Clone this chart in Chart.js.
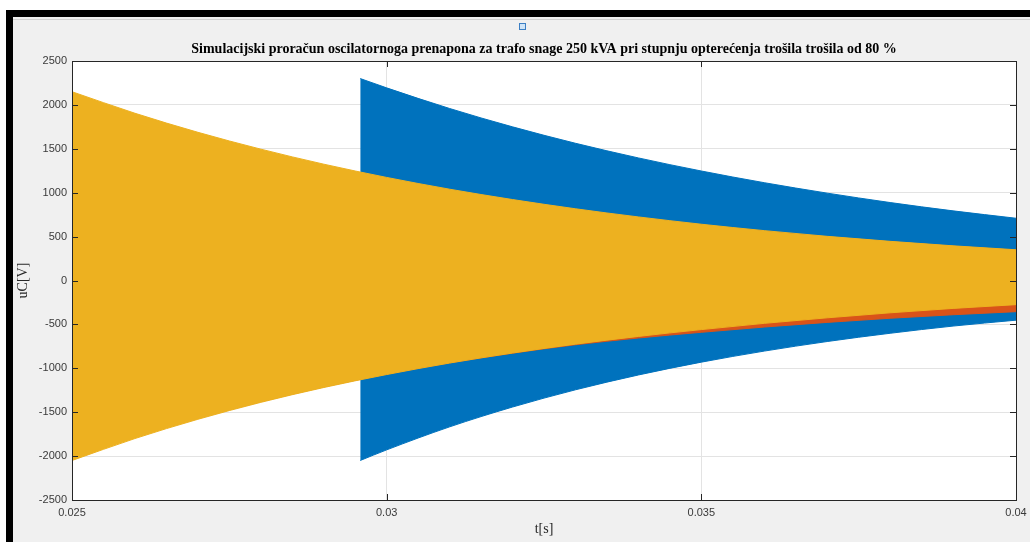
<!DOCTYPE html>
<html>
<head>
<meta charset="utf-8">
<script src="https://cdn.jsdelivr.net/npm/chart.js@4.4.1/dist/chart.umd.min.js"></script>
<style>
  html, body { margin: 0; padding: 0; }
  body { width: 1030px; height: 542px; background: #f0f0f0; position: relative; overflow: hidden; }
  #topWhite { position: absolute; left: 0; top: 0; width: 1030px; height: 10px; background: #fff; }
  #leftWhite { position: absolute; left: 0; top: 0; width: 6px; height: 542px; background: #fff; }
  #topBar { position: absolute; left: 6px; top: 10px; width: 1024px; height: 7px; background: #000; }
  #leftBar { position: absolute; left: 6px; top: 10px; width: 7px; height: 532px; background: #000; }
  #topLine { position: absolute; left: 13px; top: 19px; width: 1017px; height: 1px; background: #d2d2d2; }
  #icon { position: absolute; left: 519px; top: 23px; width: 5px; height: 5px; border: 1px solid #3c7fc4; background: #cfe4f7; }
  #wrap { position: absolute; left: 0; top: 0; width: 1030px; height: 542px; }
</style>
</head>
<body>
<div id="topWhite"></div>
<div id="leftWhite"></div>
<div id="topBar"></div>
<div id="leftBar"></div>
<div id="topLine"></div>
<div id="icon"></div>
<div id="wrap"><canvas id="uChart" width="1030" height="542"></canvas></div>
<script>
// tick labels
const xTicks = [0.025, 0.03, 0.035, 0.04];
const yTicks = [-2500, -2000, -1500, -1000, -500, 0, 500, 1000, 1500, 2000, 2500];

// envelope of the yellow signal
const tYellow = [0.025, 0.026, 0.027, 0.028, 0.029, 0.030, 0.031, 0.032, 0.033, 0.034, 0.035, 0.036, 0.037, 0.038, 0.039, 0.040];
const yellowUpper = [2150, 1905, 1688, 1496, 1325, 1174, 1040, 922, 817, 724, 641, 568, 503, 446, 395, 350];
const yellowLower = [-2050, -1800, -1581, -1388, -1219, -1071, -940, -826, -725, -637, -559, -488, -425, -368, -318, -275];

// red signal, mostly hidden behind yellow
const tRed = [0.025, 0.026, 0.027, 0.028, 0.029, 0.030, 0.031, 0.032, 0.033, 0.034, 0.035, 0.036, 0.037, 0.038, 0.039, 0.040];
const redUpper = [2130, 1885, 1670, 1480, 1310, 1160, 1028, 910, 806, 714, 632, 560, 496, 440, 390, 345];
const redLower = [-2030, -1785, -1570, -1380, -1212, -1066, -938, -828, -732, -655, -590, -530, -477, -430, -390, -355];

// blue signal, starts at the switching moment
const tBlue = [0.02958, 0.030, 0.031, 0.032, 0.033, 0.034, 0.035, 0.036, 0.037, 0.038, 0.039, 0.040];
const blueUpper = [2300, 2194, 1959, 1750, 1563, 1396, 1247, 1114, 995, 888, 793, 709];
const blueLower = [-2050, -1929, -1667, -1441, -1245, -1076, -930, -804, -695, -601, -519, -452];

const toPoints = (t, v) => t.map((x, i) => ({ x: x, y: v[i] }));

const band = (pts, color, fill) => ({
  data: pts,
  borderColor: color,
  backgroundColor: color,
  borderWidth: 1,
  pointRadius: 0,
  cubicInterpolationMode: 'monotone',
  fill: fill
});

const tickFont = { family: '"Liberation Sans", Arial, sans-serif', size: 11 };
const serif = '"Liberation Serif", "Times New Roman", serif';

// white axes background
const axesBg = {
  id: 'axesBg',
  beforeDraw(chart) {
    const a = chart.chartArea, c = chart.ctx;
    c.save();
    c.fillStyle = '#fff';
    c.fillRect(a.left, a.top, a.right - a.left, a.bottom - a.top);
    c.restore();
  }
};

// matlab style box with inner tick marks
const axesBox = {
  id: 'axesBox',
  afterDraw(chart) {
    const a = chart.chartArea, c = chart.ctx;
    const xs = chart.scales.x, ys = chart.scales.y;
    c.save();
    c.strokeStyle = '#262626';
    c.lineWidth = 1;
    c.beginPath();
    xTicks.forEach(v => {
      const px = Math.round(xs.getPixelForValue(v)) + 0.5;
      c.moveTo(px, a.top); c.lineTo(px, a.top + 6);
      c.moveTo(px, a.bottom); c.lineTo(px, a.bottom - 6);
    });
    yTicks.forEach(v => {
      const py = Math.round(ys.getPixelForValue(v)) + 0.5;
      c.moveTo(a.left, py); c.lineTo(a.left + 6, py);
      c.moveTo(a.right, py); c.lineTo(a.right - 6, py);
    });
    c.stroke();
    c.strokeRect(Math.round(a.left) + 0.5, Math.round(a.top) + 0.5,
      Math.round(a.right - a.left), Math.round(a.bottom - a.top));
    c.restore();
  }
};

var ctx = document.getElementById('uChart').getContext('2d');

new Chart(ctx, {
  type: 'line',
  data: {
    datasets: [
      band(toPoints(tYellow, yellowUpper), '#EDB120', '+1'),
      band(toPoints(tYellow, yellowLower), '#EDB120', false),
      band(toPoints(tRed, redUpper), '#D95319', '+1'),
      band(toPoints(tRed, redLower), '#D95319', false),
      band(toPoints(tBlue, blueUpper), '#0072BD', '+1'),
      band(toPoints(tBlue, blueLower), '#0072BD', false)
    ]
  },
  options: {
    responsive: false,
    animation: false,
    layout: { padding: { left: 0, right: 14, top: 0, bottom: 0 } },
    plugins: {
      legend: { display: false },
      tooltip: { enabled: false }
    },
    scales: {
      x: {
        type: 'linear',
        position: 'bottom',
        min: 0.025,
        max: 0.04,
        afterBuildTicks: s => { s.ticks = xTicks.map(v => ({ value: v })); },
        afterFit: s => { s.height = 42; s.paddingLeft = 0; s.paddingRight = 0; },
        grid: { color: '#e3e3e3', drawTicks: false },
        border: { display: false },
        ticks: {
          padding: 6,
          font: tickFont,
          color: '#3a3a3a',
          maxRotation: 0,
          callback: v => String(v)
        },
        title: {
          display: true,
          text: 't[s]',
          font: { family: serif, size: 14 },
          color: '#262626',
          padding: { top: 0, bottom: 4 }
        }
      },
      top: {
        type: 'linear',
        position: 'top',
        min: 0,
        max: 1,
        afterFit: s => { s.height = 61; s.paddingLeft = 0; s.paddingRight = 0; },
        grid: { display: false },
        border: { display: false },
        ticks: { display: false },
        title: {
          display: true,
          text: 'Simulacijski proračun oscilatornoga prenapona za trafo snage 250 kVA pri stupnju opterećenja trošila trošila od 80 %',
          font: { family: serif, size: 14, weight: 'bold' },
          color: '#000',
          padding: { top: 41, bottom: 0 }
        }
      },
      y: {
        min: -2500,
        max: 2500,
        afterBuildTicks: s => { s.ticks = yTicks.map(v => ({ value: v })); },
        afterFit: s => { s.width = 72; },
        grid: { color: '#e3e3e3', drawTicks: false },
        border: { display: false },
        ticks: {
          padding: 5,
          font: tickFont,
          color: '#3a3a3a',
          callback: v => String(v)
        },
        title: {
          display: true,
          text: 'uC[V]',
          font: { family: serif, size: 14 },
          color: '#262626',
          padding: { top: 15, bottom: 0 }
        }
      }
    }
  },
  plugins: [axesBg, axesBox]
});
</script>
</body>
</html>
